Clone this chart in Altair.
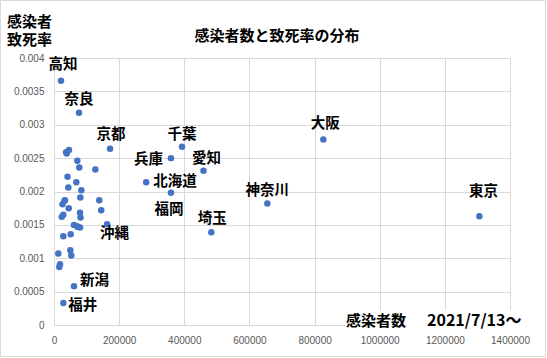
import altair as alt
import pandas as pd

# Labelled prefectures: cumulative cases (x) and case fatality rate (y)
names = ["高知", "奈良", "京都", "千葉", "兵庫", "北海道", "福岡", "愛知",
         "神奈川", "埼玉", "大阪", "東京", "沖縄", "新潟", "福井"]
named_cases = [21500, 76800, 172000, 393000, 359000, 283000, 359000, 459000,
               655000, 483000, 827000, 1306000, 163000, 61400, 28700]
named_rate = [0.00366, 0.00318, 0.00264, 0.00267, 0.00250, 0.00214, 0.00198, 0.00231,
              0.00182, 0.00139, 0.00278, 0.00163, 0.00151, 0.00058, 0.00033]

# Unlabelled prefectures
other_cases = [46000, 39000, 37000, 71600, 77700, 127000, 41500, 68500, 44000, 83900,
               80800, 139000, 33800, 32300, 26100, 45200, 28600, 23700, 79900, 81400,
               145000, 61400, 79900, 70700, 73700, 28600, 51300, 13200, 50100, 53100,
               18400, 16300]
other_rate = [0.00262, 0.00257, 0.00259, 0.00246, 0.00236, 0.00233, 0.00222, 0.00214, 0.00206, 0.00202,
              0.00191, 0.00187, 0.00187, 0.00186, 0.00181, 0.00175, 0.00165, 0.00162, 0.00168, 0.00161,
              0.00172, 0.00150, 0.00146, 0.00148, 0.00147, 0.00133, 0.00136, 0.00107, 0.00112, 0.00104,
              0.00091, 0.00087]

x_ticks = [0, 200000, 400000, 600000, 800000, 1000000, 1200000, 1400000]
y_ticks = [0, 0.0005, 0.001, 0.0015, 0.002, 0.0025, 0.003, 0.0035, 0.004]

title_text = "感染者数と致死率の分布"
y_title_1 = "感染者"
y_title_2 = "致死率"
x_title_a = "感染者数"
x_title_b = "2021/7/13～"

named_df = pd.DataFrame({"name": names, "cases": named_cases, "rate": named_rate})
all_df = pd.DataFrame({"cases": named_cases + other_cases, "rate": named_rate + other_rate})
one_row = pd.DataFrame({"k": [0]})

# label placement (align, dx, dy) — styling only
placement = {
    "高知": ("center", 2, -16), "奈良": ("center", 0, -13), "京都": ("center", 1, -14),
    "千葉": ("center", 0, -12), "兵庫": ("right", -8, 2), "北海道": ("left", 7, 0),
    "福岡": ("center", -2, 17), "愛知": ("center", 3, -12), "神奈川": ("center", 0, -13),
    "埼玉": ("center", 1, -13), "大阪": ("center", 2, -15), "東京": ("center", 4, -24),
    "沖縄": ("left", -7, 10), "新潟": ("left", 6, -5), "福井": ("left", 5, 3),
}

FONT = "Noto Sans CJK JP"
GRID = "#d9d9d9"

x_enc = alt.X("cases:Q", scale=alt.Scale(domain=[0, 1400000], nice=False),
              axis=alt.Axis(values=x_ticks, format="d", title=None, labelOverlap=False,
                            labelFlush=False, labelBound=False))
y_enc = alt.Y("rate:Q", scale=alt.Scale(domain=[0, 0.004], nice=False),
              axis=alt.Axis(values=y_ticks, format="~g", title=None, labelOverlap=False,
                            labelFlush=False))

points = alt.Chart(all_df).mark_circle(size=42, color="#4472C4", opacity=1).encode(x=x_enc, y=y_enc)

label_layers = []
for n in names:
    al, dx, dy = placement[n]
    label_layers.append(
        alt.Chart(named_df).transform_filter(alt.datum.name == n).mark_text(
            align=al, baseline="middle", dx=dx, dy=dy, font=FONT, fontWeight="bold",
            fontSize=14.5, color="#000000"
        ).encode(x=x_enc, y=y_enc, text="name:N")
    )

frame = alt.Chart(one_row).mark_rect(fillOpacity=0, stroke=GRID, strokeWidth=1).encode(
    x=alt.value(-53.5), x2=alt.value(491.5), y=alt.value(-57.5), y2=alt.value(298.5))

white_box = alt.Chart(one_row).mark_rect(fill="white").encode(
    x=alt.value(291), x2=alt.value(487), y=alt.value(252), y2=alt.value(275))


def fixed_text(txt, x, y, size=15, align="left"):
    return alt.Chart(one_row).mark_text(
        text=txt, font=FONT, fontWeight="bold", fontSize=size, align=align, baseline="middle"
    ).encode(x=alt.value(x), y=alt.value(y))


title_mark = fixed_text(title_text, 223, -22, 15, "center")
ytitle_1 = fixed_text(y_title_1, -47, -36)
ytitle_2 = fixed_text(y_title_2, -47, -18)
xtitle_a = fixed_text(x_title_a, 292, 263)
xtitle_b = fixed_text(x_title_b, 373, 263, 16)

chart = alt.layer(
    frame, points, *label_layers, white_box, title_mark, ytitle_1, ytitle_2, xtitle_a, xtitle_b
).properties(
    width=456, height=267,
    autosize=alt.AutoSizeParams(type="none"),
    padding={"left": 54, "top": 58, "right": 37, "bottom": 33},
    background="white",
).configure_view(stroke=None).configure_axis(
    grid=True, gridColor=GRID, gridWidth=1, domainColor=GRID, domainWidth=1,
    ticks=False, labelColor="#595959", labelFont="Liberation Sans", labelFontSize=10,
    labelPadding=10,
)

chart.save("out.html", embed_options={"renderer": "svg", "actions": False})
